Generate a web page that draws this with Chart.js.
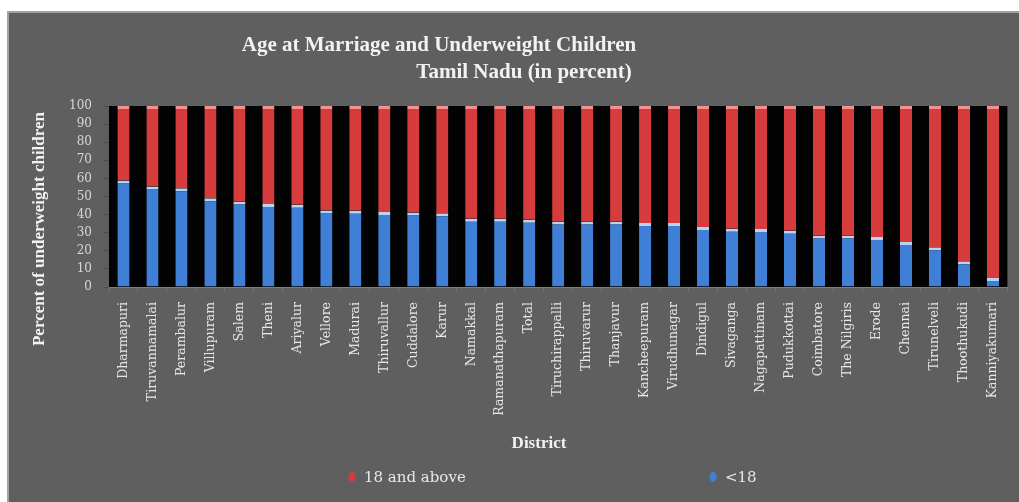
<!DOCTYPE html>
<html>
<head>
<meta charset="utf-8">
<title>Age at Marriage and Underweight Children</title>
<script src="https://cdn.jsdelivr.net/npm/chart.js@4.4.1/dist/chart.umd.min.js"></script>
<style>
  html, body { margin: 0; padding: 0; background: #fff; }
  #frame {
    position: absolute; left: 7px; top: 11px; width: 1012px; height: 491px;
    box-sizing: border-box; background: #5f5f5f;
    border-top: 2px solid #a2a2a2; border-left: 2px solid #a2a2a2;
  }
  #wrap { position: absolute; left: 0; top: 0; width: 1019px; height: 502px; }
</style>
</head>
<body>
<div id="frame"></div>
<div id="wrap"><canvas id="chart"></canvas></div>
<script>
// Data
const districts = [
  "Dharmapuri", "Tiruvannamalai", "Perambalur", "Villupuram", "Salem", "Theni",
  "Ariyalur", "Vellore", "Madurai", "Thiruvallur", "Cuddalore", "Karur",
  "Namakkal", "Ramanathapuram", "Total", "Tiruchirappalli", "Thiruvarur",
  "Thanjavur", "Kancheepuram", "Virudhunagar", "Dindigul", "Sivaganga",
  "Nagapattinam", "Pudukkottai", "Coimbatore", "The Nilgiris", "Erode",
  "Chennai", "Tirunelveli", "Thoothukudi", "Kanniyakumari"
];

// percent of underweight children, mother married below 18
const under18 = [
  58.8, 55.5, 54.6, 49.0, 47.2, 45.8, 45.4, 42.3, 42.1, 41.4, 41.2, 40.8,
  37.7, 37.7, 37.1, 36.2, 36.2, 36.2, 35.3, 35.3, 33.1, 32.2, 32.0, 31.1,
  28.5, 28.5, 27.6, 24.8, 22.0, 14.2, 5.0
];

// mother married at 18 and above
const above18 = [
  41.2, 44.5, 45.4, 51.0, 52.8, 54.2, 54.6, 57.7, 57.9, 58.6, 58.8, 59.2,
  62.3, 62.3, 62.9, 63.8, 63.8, 63.8, 64.7, 64.7, 66.9, 67.8, 68.0, 68.9,
  71.5, 71.5, 72.4, 75.2, 78.0, 85.8, 95.0
];

const yMin = 0, yMax = 100, yStep = 10;

const titleLines = ["Age at Marriage and Underweight Children", "Tamil Nadu (in percent)"];
const xTitle = "District";
const yTitle = "Percent of underweight children";

// Colors
const RED = "#d63c3c", RED_CAP = "#f19191";
const BLUE = "#3f80d6", BLUE_CAP = "#b9d2f2";
const TEXT = "#f2f2f2";

// black plot area + titles + legend
const decor = {
  id: "decor",
  beforeDraw(chart) {
    const { ctx, chartArea: a } = chart;
    ctx.save();
    ctx.fillStyle = "#030303";
    ctx.fillRect(a.left, a.top, a.right - a.left, a.bottom - a.top);
    ctx.restore();
  },
  afterDraw(chart) {
    const ctx = chart.ctx;
    ctx.save();
    ctx.fillStyle = TEXT;
    ctx.textBaseline = "middle";
    ctx.textAlign = "center";

    ctx.font = 'bold 21px "Liberation Serif"';
    ctx.fillText(titleLines[0], 439, 46);
    ctx.fillText(titleLines[1], 524, 73);

    ctx.font = 'bold 17px "Liberation Serif"';
    ctx.fillText(xTitle, 539, 444);

    ctx.save();
    ctx.translate(40, 229);
    ctx.rotate(-Math.PI / 2);
    ctx.font = 'bold 17px "Liberation Serif"';
    ctx.fillText(yTitle, 0, 0);
    ctx.restore();

    // legend: "18 and above" then "<18"
    const items = [
      { ds: chart.data.datasets[1], x: 352 },
      { ds: chart.data.datasets[0], x: 713 }
    ];
    ctx.font = '15px "DejaVu Serif"';
    ctx.textAlign = "left";
    items.forEach(it => {
      ctx.fillStyle = it.ds.backgroundColor;
      ctx.beginPath();
      ctx.ellipse(it.x, 477, 3.5, 5, 0, 0, Math.PI * 2);
      ctx.fill();
      ctx.fillStyle = "#e8e8e8";
      ctx.fillText(it.ds.label, it.x + 12, 478);
    });
    ctx.restore();
  }
};

const chart = new Chart(document.getElementById("chart"), {
  type: "bar",
  data: {
    labels: districts,
    datasets: [
      {
        label: "<18",
        data: under18,
        backgroundColor: BLUE,
        borderColor: BLUE_CAP,
        borderWidth: { top: 3, left: 0, right: 0, bottom: 0 },
        borderSkipped: false
      },
      {
        label: "18 and above",
        data: above18,
        backgroundColor: RED,
        borderColor: RED_CAP,
        borderWidth: { top: 3, left: 0, right: 0, bottom: 0 },
        borderSkipped: false
      }
    ]
  },
  options: {
    responsive: true,
    maintainAspectRatio: false,
    animation: false,
    datasets: { bar: { categoryPercentage: 1, barPercentage: 0.42 } },
    layout: { padding: { top: 106, right: 6, bottom: 60, left: 20 } },
    plugins: {
      legend: { display: false },
      title: { display: false },
      tooltip: { enabled: false }
    },
    scales: {
      x: {
        stacked: true,
        grid: { drawOnChartArea: false, drawTicks: true, tickLength: 4, color: "#8d6f5a" },
        border: { color: "#7d7d7d" },
        ticks: {
          color: "#e6e6e6",
          font: { family: '"DejaVu Serif"', size: 12.5 },
          minRotation: 90, maxRotation: 90, autoSkip: false, padding: 11
        },
        afterFit(s) { s.height = 155; }
      },
      y: {
        stacked: true,
        min: yMin, max: yMax,
        ticks: {
          stepSize: yStep,
          color: "#d6d6d6",
          font: { family: '"DejaVu Serif"', size: 12 },
          padding: 12
        },
        grid: { drawOnChartArea: false, drawTicks: true, tickLength: 5, color: "#4b4b4b" },
        border: { display: false },
        afterFit(s) { s.width = 89; }
      }
    }
  },
  plugins: [decor]
});
</script>
</body>
</html>
